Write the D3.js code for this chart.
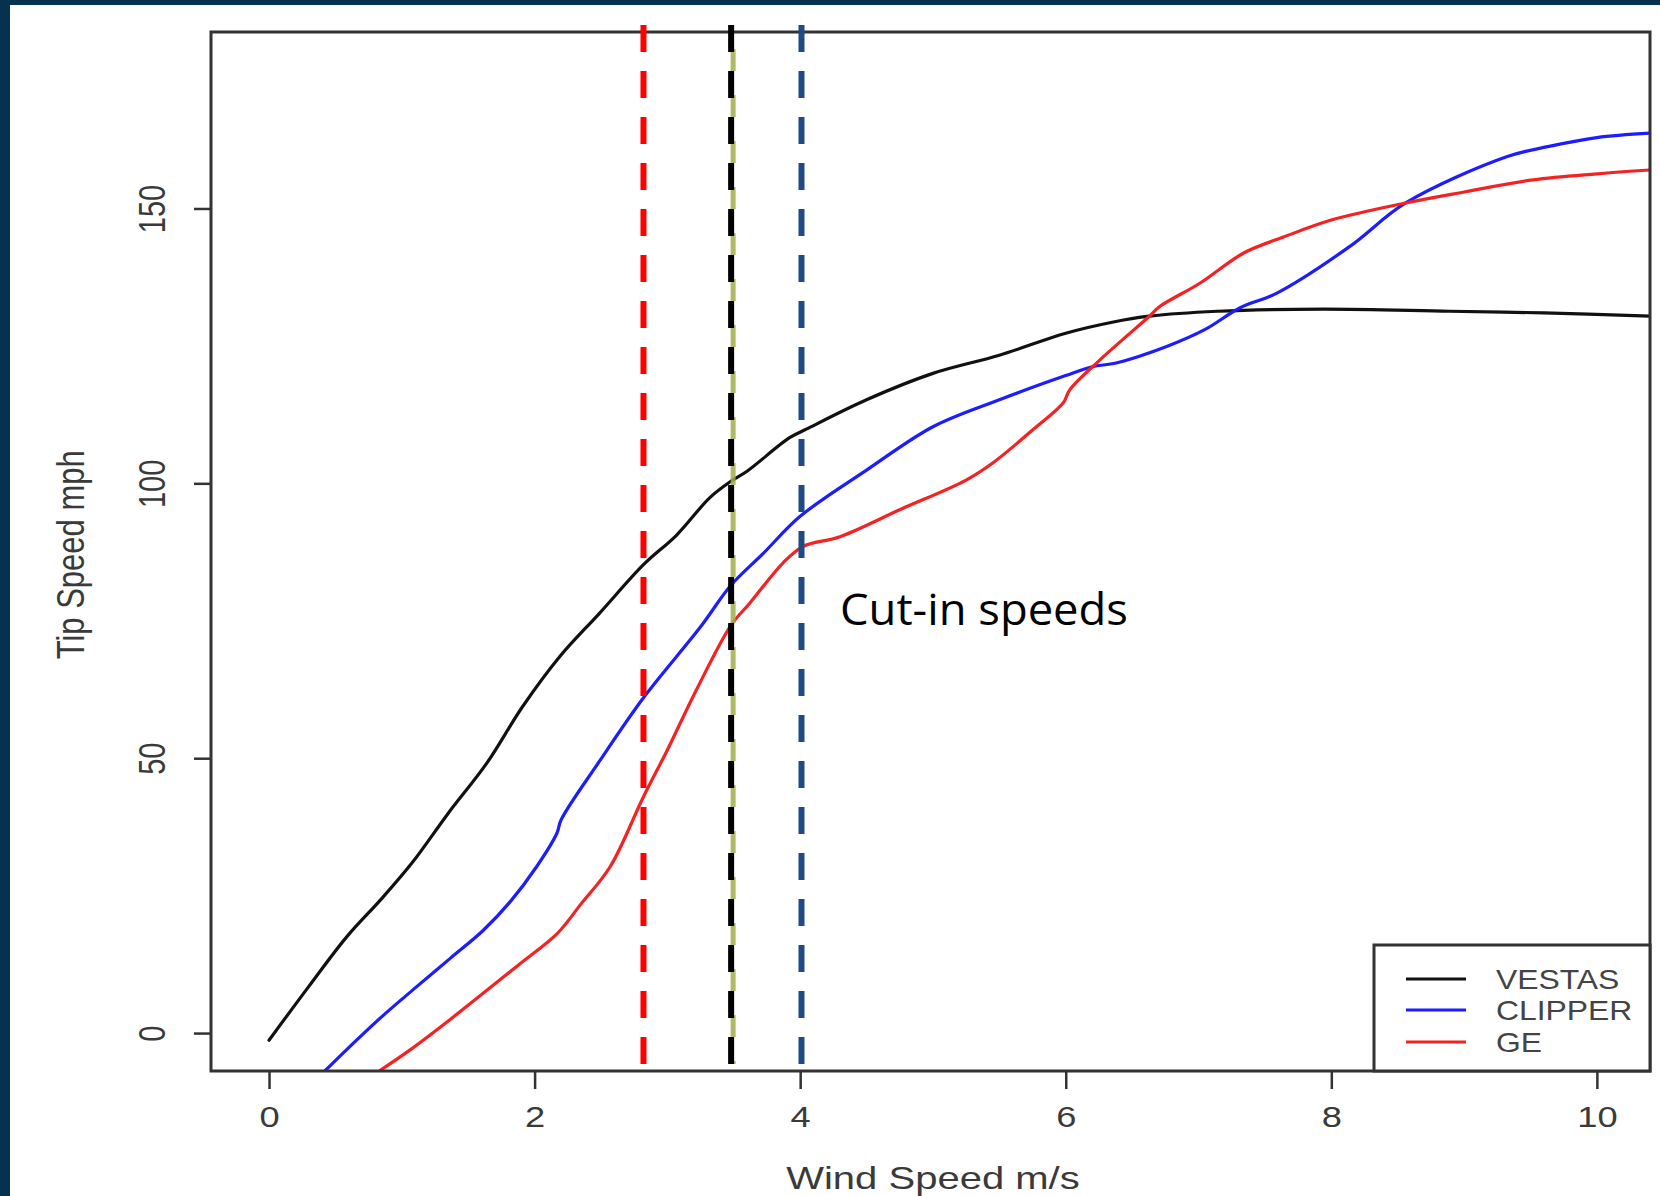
<!DOCTYPE html>
<html>
<head>
<meta charset="utf-8">
<script src="https://cdn.jsdelivr.net/npm/d3@7"></script>
<style>
html,body{margin:0;padding:0;background:#06324f;}
svg{display:block;}
</style>
</head>
<body>
<script>
// ---- data ----
const vestasX = [0, 0.3, 0.585, 0.85, 1.085, 1.35, 1.64, 1.91, 2.19, 2.49, 2.82, 3.07, 3.32, 3.48, 3.6, 3.92, 4.05, 4.5, 5.0, 5.5, 6.0, 6.35, 6.63, 7.14, 7.94, 8.89, 9.6, 10.4];
const vestasY = [-1.3, 8.5, 17.5, 24.5, 31.2, 40, 49.1, 59.4, 68.5, 76.4, 85.2, 90.6, 97.4, 100.4, 102.2, 108.3, 109.9, 115.2, 120, 123.3, 127.3, 129.3, 130.4, 131.3, 131.7, 131.3, 131, 130.4];
const clipperX = [0.42, 0.585, 0.85, 1.11, 1.36, 1.614, 1.82, 2.016, 2.167, 2.2, 2.49, 2.82, 3.25, 3.48, 3.72, 4.0, 4.5, 5.0, 5.5, 6.0, 6.2, 6.38, 6.76, 7.05, 7.31, 7.59, 8.14, 8.56, 9.32, 9.64, 10.0, 10.4];
const clipperY = [-6.9, -3.0, 3.0, 8.4, 13.5, 18.7, 24, 30.3, 36.3, 38.8, 49.5, 61, 73.9, 81.5, 87.2, 94.0, 102.4, 110.3, 115.2, 119.6, 121.2, 121.9, 124.9, 128, 131.9, 134.6, 143.1, 151, 159.4, 161.3, 162.9, 163.7];
const geX = [0.83, 1.06, 1.35, 1.61, 1.9, 2.17, 2.35, 2.57, 2.82, 3.0, 3.22, 3.48, 3.62, 3.87, 4.02, 4.3, 4.75, 5.25, 5.45, 5.75, 5.98, 6.03, 6.26, 6.63, 6.71, 7.01, 7.34, 7.64, 8.0, 8.56, 9.0, 9.52, 10.0, 10.4];
const geY = [-6.9, -3.1, 2.2, 7.2, 12.8, 18.1, 23.5, 30.3, 43.0, 51.5, 62.5, 74.2, 78.2, 85.5, 88.5, 90.3, 95.2, 100.6, 103.7, 109.7, 114.6, 117, 122.5, 130.4, 132.2, 136.4, 141.9, 144.8, 147.9, 151, 153, 155.2, 156.3, 157];
const seriesNames = ["VESTAS", "CLIPPER", "GE"];
const cutInSpeeds = [2.82, 3.48, 4.01];
const xTicks = [0, 2, 4, 6, 8, 10];
const yTicks = [0, 50, 100, 150];
const xTitle = "Wind Speed m/s";
const yTitle = "Tip Speed mph";
const annotation = "Cut-in speeds";

// ---- layout ----
const W = 1660, H = 1196;
const box = {left: 211, top: 32, right: 1650, bottom: 1071};
const seriesColors = ["#111111", "#1c1cff", "#f42222"];
const cutColors = ["#ff0000", "#000000", "#1f4a86"];
const STRETCH = 1.25;
const FONT = "Liberation Sans, Arial, sans-serif";

const svg = d3.select("body").append("svg").attr("width", W).attr("height", H);
svg.append("rect").attr("x", 10).attr("y", 5).attr("width", W - 10).attr("height", H - 5).attr("fill", "#ffffff");

const x = d3.scaleLinear().domain([-0.437, 10.4]).range([box.left, box.right]);
const y = d3.scaleLinear().domain([-6.9, 182.1]).range([box.bottom, box.top]);

svg.append("defs").append("clipPath").attr("id", "clip")
  .append("rect").attr("x", box.left).attr("y", box.top)
  .attr("width", box.right - box.left).attr("height", box.bottom - box.top);

const line = d3.line().x(d => x(d[0])).y(d => y(d[1])).curve(d3.curveCatmullRom.alpha(0.5));
const series = [
  d3.zip(vestasX, vestasY),
  d3.zip(clipperX, clipperY),
  d3.zip(geX, geY)
];
const plot = svg.append("g").attr("clip-path", "url(#clip)");
series.forEach((s, i) => {
  plot.append("path").datum(s).attr("d", line)
    .attr("fill", "none").attr("stroke", seriesColors[i])
    .attr("stroke-width", 3.2).attr("stroke-linejoin", "round").attr("stroke-linecap", "round");
});

// axes (R style)
const textCol = "#3a3a3a";
const xAxis = svg.append("g").attr("transform", `translate(0,${box.bottom})`)
  .call(d3.axisBottom(x).tickValues(xTicks).tickSize(18).tickFormat(d3.format("d")));
xAxis.select(".domain").remove();
xAxis.selectAll(".tick line").attr("stroke", "#333").attr("stroke-width", 2.5);
xAxis.selectAll(".tick text").attr("fill", textCol).attr("font-family", FONT)
  .attr("font-size", 29).attr("dy", null).attr("y", 56).attr("x", 0)
  .attr("transform", `scale(${STRETCH},1)`);

const yAxis = svg.append("g").attr("transform", `translate(${box.left},0)`)
  .call(d3.axisLeft(y).tickValues(yTicks).tickSize(17).tickFormat(d3.format("d")));
yAxis.select(".domain").remove();
yAxis.selectAll(".tick line").attr("stroke", "#333").attr("stroke-width", 2.5);
yAxis.selectAll(".tick text").attr("fill", textCol).attr("font-family", FONT)
  .attr("font-size", 29).attr("x", null).attr("dy", null)
  .attr("text-anchor", "middle")
  .attr("transform", `translate(-46,0) scale(${STRETCH},1) rotate(-90)`);

// box
svg.append("rect").attr("x", box.left).attr("y", box.top)
  .attr("width", box.right - box.left).attr("height", box.bottom - box.top)
  .attr("fill", "none").attr("stroke", "#333").attr("stroke-width", 3);

// axis titles
svg.append("text").attr("transform", `translate(${x(5.0)},1189) scale(${STRETCH},1)`)
  .attr("text-anchor", "middle").attr("font-family", FONT)
  .attr("font-size", 32).attr("fill", textCol).text(xTitle);
svg.append("text").attr("transform", `translate(84,${y(87)}) scale(${STRETCH},1) rotate(-90)`)
  .attr("text-anchor", "middle").attr("font-family", FONT)
  .attr("font-size", 31).attr("fill", textCol).text(yTitle);

// cut-in dashed lines (olive companion under the black one)
svg.append("line").attr("x1", x(cutInSpeeds[1]) + 2).attr("x2", x(cutInSpeeds[1]) + 2)
  .attr("y1", 25).attr("y2", 1064).attr("stroke", "#a3ad4a").attr("stroke-width", 5)
  .attr("stroke-dasharray", "22 24").attr("stroke-dashoffset", -24).attr("opacity", 0.85);
cutInSpeeds.forEach((v, i) => {
  svg.append("line").attr("x1", x(v)).attr("x2", x(v)).attr("y1", 25).attr("y2", 1064)
    .attr("stroke", cutColors[i]).attr("stroke-width", 6).attr("stroke-dasharray", "27 19");
});

svg.append("text").attr("x", 840).attr("y", 625).attr("font-family", "Open Sans, sans-serif")
  .attr("font-size", 43).attr("fill", "#000")
  .attr("textLength", 288).attr("lengthAdjust", "spacingAndGlyphs").text(annotation);

// legend
const lg = {left: 1374, top: 945};
svg.append("rect").attr("x", lg.left).attr("y", lg.top).attr("width", box.right - lg.left)
  .attr("height", box.bottom - lg.top).attr("fill", "#fff").attr("stroke", "#333").attr("stroke-width", 3);
const legendRows = [979, 1010, 1042];
seriesNames.forEach((n, i) => {
  svg.append("line").attr("x1", 1406).attr("x2", 1466).attr("y1", legendRows[i]).attr("y2", legendRows[i])
    .attr("stroke", seriesColors[i]).attr("stroke-width", 3);
  svg.append("text").attr("transform", `translate(1496,${legendRows[i] + 10}) scale(1.18,1)`)
    .attr("font-family", FONT).attr("font-size", 27)
    .attr("fill", "#444").text(n);
});
</script>
</body>
</html>
